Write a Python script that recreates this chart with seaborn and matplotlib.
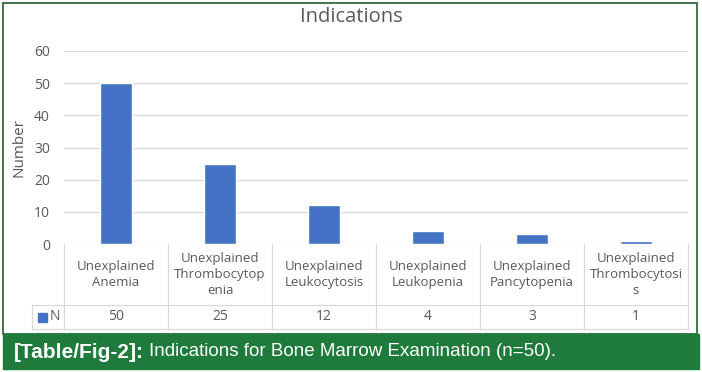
import matplotlib
matplotlib.use('Agg')
import matplotlib.pyplot as plt
import matplotlib.transforms as mtransforms
from matplotlib.patches import Rectangle
import pandas as pd
import seaborn as sns

# data
categories = ['Unexplained Anemia', 'Unexplained Thrombocytopenia', 'Unexplained Leukocytosis',
              'Unexplained Leukopenia', 'Unexplained Pancytopenia', 'Unexplained Thrombocytosis']
table_labels = ['Unexplained\nAnemia', 'Unexplained\nThrombocytop\nenia', 'Unexplained\nLeukocytosis',
                'Unexplained\nLeukopenia', 'Unexplained\nPancytopenia', 'Unexplained\nThrombocytosi\ns']
counts = [50, 25, 12, 4, 3, 1]
series_name = 'N'
yticks = [0, 10, 20, 30, 40, 50, 60]

df = pd.DataFrame({'category': categories, 'N': counts})

sns.set_style('white')
plt.rcParams['font.family'] = ['Open Sans', 'DejaVu Sans']

W, H = 702, 372
fig = plt.figure(figsize=(W / 100, H / 100), dpi=100)

def fx(x):
    return x / W

def fy(y):
    return 1 - y / H

blue = '#4472C4'
grey_txt = '#595959'
grid_c = '#D9D9D9'
green = '#1F7B3B'

# axes placement in pixels
left, right, top, bottom = 64, 688, 51, 244
ax = fig.add_axes([fx(left), fy(bottom), fx(right - left), (bottom - top) / H])

sns.barplot(data=df, x='category', y='N', color=blue, width=0.31, saturation=1, ax=ax)
ax.set_ylim(0, 60)
ax.set_xlim(-0.5, 5.5)
ax.set_yticks(yticks)
ax.set_yticklabels([str(v) for v in yticks], color=grey_txt, fontsize=10)
ax.tick_params(axis='y', length=0, pad=10)
ax.set_xticks([])
ax.set_xlabel('')
ax.set_ylabel('Number', color=grey_txt, fontsize=11)
ax.yaxis.set_label_coords((27 - left) / (right - left), 0.5)
for v in yticks:
    ax.axhline(v, color=grid_c, lw=0.9, zorder=0)
for s in ax.spines.values():
    s.set_visible(False)
ax.set_axisbelow(True)

fig.text(0.5, fy(17), 'Indications', ha='center', va='center', fontsize=14.5, color=grey_txt)

# data table under the plot
tr = mtransforms.blended_transform_factory(ax.transData, fig.transFigure)
row1, row2, tbot = 244, 305, 329
tcol = '#D9D9D9'
for i in range(len(categories) + 1):
    x = i - 0.5
    fig.add_artist(plt.Line2D([x, x], [fy(row1), fy(tbot)], transform=tr, color=tcol, lw=0.9))
fig.add_artist(plt.Line2D([fx(32), fx(right)], [fy(row2), fy(row2)], color=tcol, lw=0.9))
fig.add_artist(plt.Line2D([fx(32), fx(right)], [fy(tbot), fy(tbot)], color=tcol, lw=0.9))
fig.add_artist(plt.Line2D([fx(32), fx(32)], [fy(row2), fy(tbot)], color=tcol, lw=0.9))
for i, (lab, n) in enumerate(zip(table_labels, counts)):
    fig.text(i, fy((row1 + row2) / 2), lab, transform=tr, ha='center', va='center',
             fontsize=9.5, color=grey_txt, linespacing=1.3)
    fig.text(i, fy((row2 + tbot) / 2), str(n), transform=tr, ha='center', va='center',
             fontsize=10, color=grey_txt)
fig.add_artist(Rectangle((fx(38), fy(322)), fx(9), 9 / H, color=blue, transform=fig.transFigure))
fig.text(fx(50), fy(317), series_name, ha='left', va='center', fontsize=10, color=grey_txt)

# green frame and caption band
fig.add_artist(Rectangle((fx(3), fy(334)), fx(694), (334 - 3) / H, fill=False,
                         edgecolor='#2E6B3E', lw=1.3, transform=fig.transFigure))
fig.add_artist(Rectangle((fx(3), fy(369)), fx(696), 35 / H, color=green,
                         transform=fig.transFigure))
cap = fig.text(fx(14), fy(352), '[Table/Fig-2]:', ha='left', va='center', fontsize=15,
               color='white', fontweight='bold', family='Liberation Sans')
fig.canvas.draw()
bb = cap.get_window_extent()
fig.text(bb.x1 / W + fx(5), fy(352), 'Indications for Bone Marrow Examination (n=50).',
         ha='left', va='center', fontsize=13.5, color='white', family='Liberation Sans')

fig.savefig('out.png', dpi=100)
